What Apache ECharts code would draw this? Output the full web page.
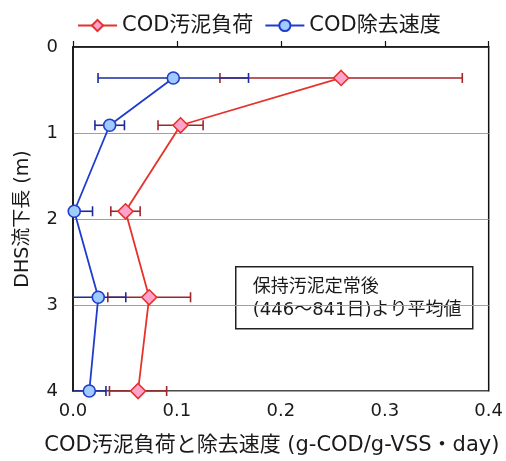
<!DOCTYPE html>
<html>
<head>
<meta charset="utf-8">
<script src="https://cdn.jsdelivr.net/npm/echarts@6/dist/echarts.min.js"></script>
<style>
  html, body { margin: 0; padding: 0; background: #ffffff; }
  #chart { width: 506px; height: 461px; }
</style>
</head>
<body>
<div id="chart"></div>
<script>
// Sampling depths along the DHS reactor (m)
const depths = [0.36, 0.91, 1.91, 2.91, 4.0];
// COD sludge loading: mean and standard deviation (g-COD/g-VSS/day)
const sludgeLoading = [0.258, 0.1035, 0.0505, 0.0733, 0.0626];
const sludgeLoadingSd = [0.1166, 0.0217, 0.0141, 0.0398, 0.0275];
// COD removal rate: mean and standard deviation (g-COD/g-VSS/day)
const removalRate = [0.0965, 0.0353, 0.0012, 0.0243, 0.0157];
const removalRateSd = [0.0724, 0.0142, 0.0176, 0.0265, 0.016];
// Axis ticks
const xTicks = [0, 0.1, 0.2, 0.3, 0.4];
const yTicks = [0, 1, 2, 3, 4];

const FONT = '"DejaVu Sans", "Noto Sans CJK JP", sans-serif';
const TEXT = '#1a1a1a';

const RED = '#e5322a', RED_FILL = '#ffa2cc', RED_BAR = '#a0262a';
const BLUE = '#1f3ccc', BLUE_FILL = '#9fcbff', BLUE_BAR = '#1b2b9c';

function pointData(xs) {
  return xs.map((x, i) => [x, depths[i]]);
}
function errorData(xs, sds) {
  return xs.map((x, i) => [x, depths[i], x - sds[i], x + sds[i]]);
}

// Horizontal error bar with caps; the low end is cut at the axis (x = 0)
function errorBarRenderer(color) {
  return function (params, api) {
    const y = api.value(1);
    const lo = api.value(2);
    const hi = api.value(3);
    const pLo = api.coord([Math.max(lo, 0), y]);
    const pHi = api.coord([hi, y]);
    const cap = 5;
    const style = { stroke: color, lineWidth: 1.6 };
    const children = [
      { type: 'line', shape: { x1: pLo[0], y1: pLo[1], x2: pHi[0], y2: pHi[1] }, style: style },
      { type: 'line', shape: { x1: pHi[0], y1: pHi[1] - cap, x2: pHi[0], y2: pHi[1] + cap }, style: style }
    ];
    if (lo >= 0) {
      children.push({ type: 'line', shape: { x1: pLo[0], y1: pLo[1] - cap, x2: pLo[0], y2: pLo[1] + cap }, style: style });
    }
    return { type: 'group', children: children };
  };
}

const chart = echarts.init(document.getElementById('chart'), null, { renderer: 'canvas' });

chart.setOption({
  backgroundColor: '#ffffff',
  animation: false,
  textStyle: { fontFamily: FONT, color: TEXT },
  legend: {
    left: 72,
    top: 10,
    itemWidth: 39,
    itemHeight: 14,
    itemGap: 11,
    textStyle: { fontFamily: FONT, fontSize: 21, color: TEXT },
    data: ['COD汚泥負荷', 'COD除去速度']
  },
  grid: {
    left: 73,
    right: 16,
    top: 47,
    bottom: 70,
    show: true,
    borderColor: '#111111',
    borderWidth: 1.5,
    backgroundColor: '#ffffff'
  },
  xAxis: {
    type: 'value',
    min: xTicks[0],
    max: xTicks[xTicks.length - 1],
    interval: 0.1,
    name: 'COD汚泥負荷と除去速度 (g-COD/g-VSS・day)',
    nameLocation: 'middle',
    nameGap: 44,
    nameTextStyle: { fontFamily: FONT, fontSize: 21, color: TEXT, padding: [0, 18, 0, 0] },
    axisLine: { show: true, lineStyle: { color: '#111111', width: 1.5 } },
    axisTick: { show: true, inside: true, length: 6, lineStyle: { color: '#111111', width: 1.2 } },
    axisLabel: {
      fontFamily: FONT, fontSize: 18, color: TEXT, margin: 11,
      formatter: v => v.toFixed(1)
    },
    splitLine: { show: false }
  },
  yAxis: {
    type: 'value',
    inverse: true,
    min: yTicks[0],
    max: yTicks[yTicks.length - 1],
    interval: 1,
    name: 'DHS流下長 (m)',
    nameLocation: 'middle',
    nameRotate: 90,
    nameGap: 40,
    nameTextStyle: { fontFamily: FONT, fontSize: 19, color: TEXT },
    axisLine: { show: true, lineStyle: { color: '#111111', width: 1.5 } },
    axisTick: { show: false },
    axisLabel: { fontFamily: FONT, fontSize: 18, color: TEXT, margin: 15 },
    splitLine: { show: true, lineStyle: { color: '#a0a0a0', width: 1 } }
  },
  series: [
    {
      name: 'COD汚泥負荷 SD',
      type: 'custom',
      z: 2,
      clip: false,
      renderItem: errorBarRenderer(RED_BAR),
      encode: { x: 0, y: 1 },
      data: errorData(sludgeLoading, sludgeLoadingSd)
    },
    {
      name: 'COD汚泥負荷',
      type: 'line',
      z: 3,
      clip: false,
      symbol: 'diamond',
      symbolSize: 15,
      lineStyle: { color: RED, width: 1.8 },
      itemStyle: { color: RED_FILL, borderColor: RED, borderWidth: 1.6 },
      data: pointData(sludgeLoading)
    },
    {
      name: 'COD除去速度 SD',
      type: 'custom',
      z: 4,
      clip: false,
      renderItem: errorBarRenderer(BLUE_BAR),
      encode: { x: 0, y: 1 },
      data: errorData(removalRate, removalRateSd)
    },
    {
      name: 'COD除去速度',
      type: 'line',
      z: 5,
      clip: false,
      symbol: 'circle',
      symbolSize: 12,
      lineStyle: { color: BLUE, width: 1.8 },
      itemStyle: { color: BLUE_FILL, borderColor: BLUE, borderWidth: 1.6 },
      data: pointData(removalRate)
    }
  ],
  graphic: [
    {
      type: 'group',
      left: 235,
      top: 266,
      z: 100,
      children: [
        {
          type: 'rect',
          shape: { x: 0, y: 0, width: 237, height: 62 },
          style: { fill: '#ffffff', stroke: '#222222', lineWidth: 1.5 }
        },
        {
          type: 'text',
          x: 17, y: 21,
          style: { text: '保持汚泥定常後', font: '18px ' + FONT, fill: TEXT, textVerticalAlign: 'middle' }
        },
        {
          type: 'text',
          x: 17, y: 44,
          style: { text: '(446～841日)より平均値', font: '18px ' + FONT, fill: TEXT, textVerticalAlign: 'middle' }
        }
      ]
    }
  ]
});
</script>
</body>
</html>
